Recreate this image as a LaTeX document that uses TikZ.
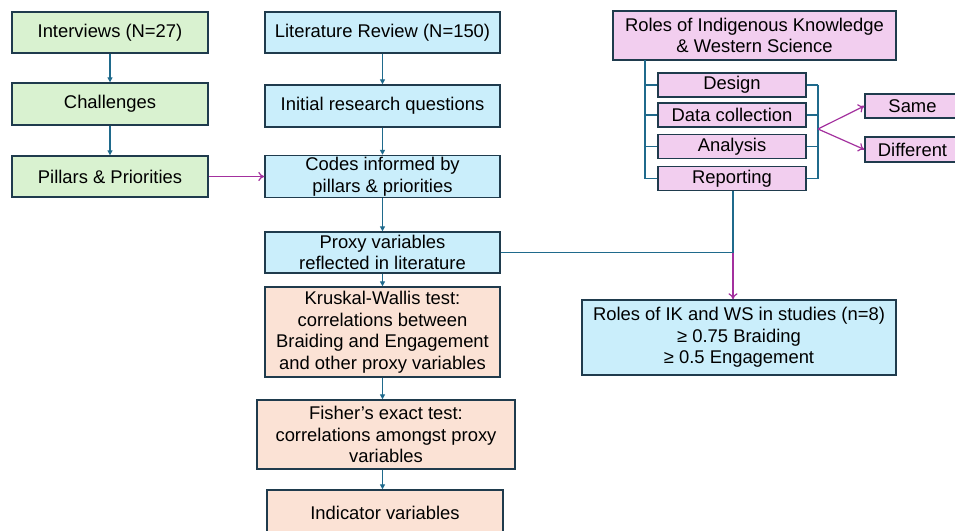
\documentclass[tikz,border=0pt]{standalone}
\usepackage{fontspec}
\setmainfont{Liberation Sans}
\usetikzlibrary{arrows.meta}
\definecolor{bordc}{HTML}{1F3B4D}
\definecolor{tealc}{HTML}{1F6A8C}
\definecolor{purpc}{HTML}{A3309E}
\definecolor{greenf}{HTML}{D9F2D0}
\definecolor{bluef}{HTML}{CAEEFB}
\definecolor{pinkf}{HTML}{F2CEEF}
\definecolor{peachf}{HTML}{FBE2D5}
\tikzset{
  box/.style={draw=bordc, line width=1.4pt, inner sep=0pt, align=center,
    font=\fontsize{18.4}{21.5}\selectfont},
  gbox/.style={box, fill=greenf},
  bbox/.style={box, fill=bluef},
  pbox/.style={box, fill=pinkf},
  obox/.style={box, fill=peachf},
  tarrow/.style={draw=tealc, line width=1.2pt, -{Triangle[length=5pt,width=5pt]}},
  tline/.style={draw=tealc, line width=1.2pt},
  parrow/.style={draw=purpc, line width=1.2pt, -{To[length=6pt,width=9pt]}},
}
\begin{document}
\begin{tikzpicture}[x=1pt,y=-1pt]
\useasboundingbox (0,0) rectangle (955,530);
\clip (0,0) rectangle (955,530);
\fill[white] (0,0) rectangle (955,530);
% left column
\node[gbox, minimum width=196pt, minimum height=41pt] (int) at (110,32.5) {Interviews (N=27)};
\node[gbox, minimum width=196pt, minimum height=42pt] (chal) at (110,104) {Challenges};
\node[gbox, minimum width=196pt, minimum height=41pt] (pil) at (110,176.5) {Pillars \& Priorities};
% middle column
\node[bbox, minimum width=235pt, minimum height=41pt] (lit) at (382.5,32.5) {Literature Review (N=150)};
\node[bbox, minimum width=235pt, minimum height=42pt] (irq) at (382.5,106) {Initial research questions};
\node[bbox, minimum width=235pt, minimum height=42pt] (codes) at (382.5,176.5) {Codes informed by\\pillars \& priorities};
\node[bbox, minimum width=235pt, minimum height=41pt] (proxy) at (382.5,252.5) {Proxy variables\\reflected in literature};
\node[obox, minimum width=235pt, minimum height=90pt] (kw) at (382.5,332) {Kruskal-Wallis test:\\correlations between\\Braiding and Engagement\\and other proxy variables};
\node[obox, minimum width=258pt, minimum height=69pt] (fish) at (386,434.5) {Fisher’s exact test:\\correlations amongst proxy\\variables};
\node[obox, minimum width=236pt, minimum height=50pt] (ind) at (385,515) {};
\node[font=\fontsize{18.4}{21.5}\selectfont] (indt) at (385,512.5) {Indicator variables};
% right part
\node[pbox, minimum width=283pt, minimum height=49pt] (roles) at (754.5,35.5) {Roles of Indigenous Knowledge\\\& Western Science};
\node[pbox, minimum width=148pt, minimum height=24pt] (des) at (732,85) {Design};
\node[pbox, minimum width=148pt, minimum height=24pt] (dat) at (732,115) {Data collection};
\node[pbox, minimum width=148pt, minimum height=24pt] (ana) at (732,146.5) {Analysis};
\node[pbox, minimum width=148pt, minimum height=24pt] (rep) at (732,178.5) {Reporting};
\node[pbox, minimum width=95pt, minimum height=24pt] (same) at (912.5,106) {Same};
\node[pbox, minimum width=95pt, minimum height=25pt] (diff) at (912.5,149.5) {Different};
\node[bbox, minimum width=314pt, minimum height=75pt] (ikws) at (739,337.5) {Roles of IK and WS in studies (n=8)\\≥ 0.75 Braiding\\≥ 0.5 Engagement};
% coordinates
\coordinate (tl) at (645,60);
\coordinate (tb) at (645,178.5);
\coordinate (br1) at (818,85);
\coordinate (br2) at (818,178.5);
\coordinate (brm) at (818,129);
\coordinate (jn) at (733,253);
% left column arrows
\draw[tarrow] (int) -- (chal);
\draw[tarrow] (chal) -- (pil);
\draw[parrow] (pil) -- (codes);
% middle column arrows
\draw[tarrow] (lit) -- (irq);
\draw[tarrow] (irq) -- (codes);
\draw[tarrow] (codes) -- (proxy);
\draw[tarrow] (proxy) -- (kw);
\draw[tarrow] (kw.south) -- (fish.north -| kw.south);
\draw[tarrow] (fish.south -| kw.south) -- (ind.north -| kw.south);
% roles tree
\draw[tline] (tl) -- (tb);
\draw[tline] (des.west -| tl) -- (des.west);
\draw[tline] (dat.west -| tl) -- (dat.west);
\draw[tline] (ana.west -| tl) -- (ana.west);
\draw[tline] (rep.west -| tl) -- (rep.west);
\draw[tline] (br1) -- (br2);
\draw[tline] (des.east) -- (des.east -| br1);
\draw[tline] (dat.east) -- (dat.east -| br1);
\draw[tline] (ana.east) -- (ana.east -| br1);
\draw[tline] (rep.east) -- (rep.east -| br1);
\draw[parrow] (brm) -- (same.west);
\draw[parrow] (brm) -- (diff.west);
% reporting and proxy to IK/WS
\draw[tline] (rep.south -| jn) -- (jn);
\draw[tline] (proxy.east) -- (proxy.east -| jn);
\draw[parrow] (jn) -- (ikws.north -| jn);
\end{tikzpicture}
\end{document}
